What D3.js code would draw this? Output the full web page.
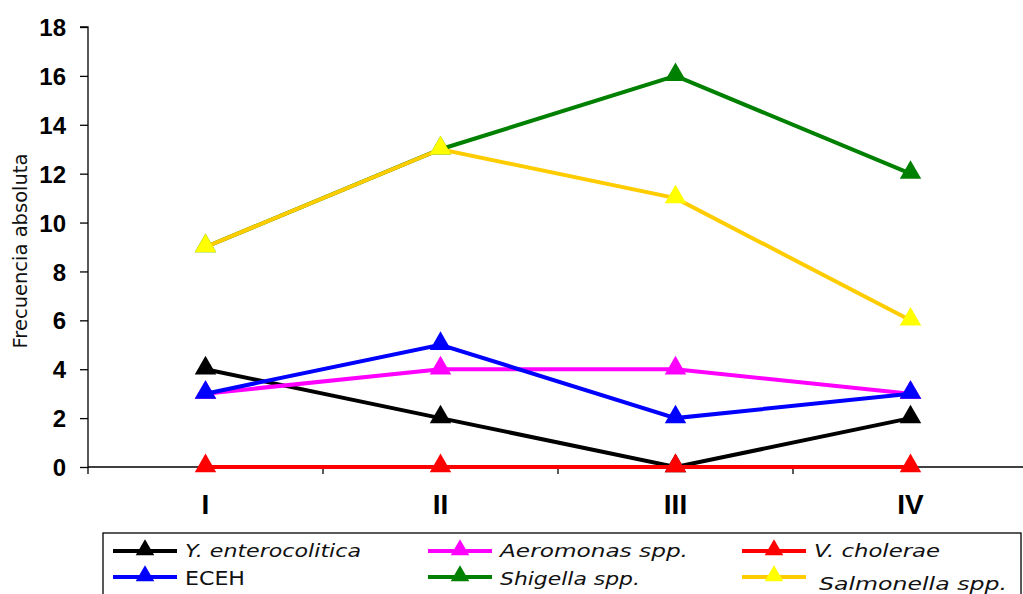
<!DOCTYPE html>
<html><head><meta charset="utf-8">
<script src="https://cdn.jsdelivr.net/npm/d3@7"></script>
<style>body{margin:0;background:#fff}svg{display:block}</style>
</head><body>
<svg id="c" width="1023" height="594"></svg>
<script>
const categories = ["I", "II", "III", "IV"];
const seriesNames = ["Y. enterocolitica", "ECEH", "Aeromonas spp.", "Shigella spp.", "V. cholerae", "Salmonella spp."];
const yEnterocolitica = [4, 2, 0, 2];
const eceh = [3, 5, 2, 3];
const aeromonas = [3, 4, 4, 3];
const shigella = [9, 13, 16, 12];
const vCholerae = [0, 0, 0, 0];
const salmonella = [9, 13, 11, 6];
const yTicks = [0, 2, 4, 6, 8, 10, 12, 14, 16, 18];

const series = [
  {name: seriesNames[0], values: yEnterocolitica, line: "#000000", mark: "#000000", italic: true, z: 0, tl: 176},
  {name: seriesNames[1], values: eceh, line: "#0000FF", mark: "#0000FF", italic: false, z: 3, tl: 60},
  {name: seriesNames[2], values: aeromonas, line: "#FF00FF", mark: "#FF00FF", italic: true, z: 1, tl: 188},
  {name: seriesNames[3], values: shigella, line: "#008000", mark: "#008000", italic: true, z: 4, tl: 140},
  {name: seriesNames[4], values: vCholerae, line: "#FF0000", mark: "#FF0000", italic: true, z: 2, tl: 126},
  {name: seriesNames[5], values: salmonella, line: "#FFCC00", mark: "#FFFF00", italic: true, z: 5, tl: 188}
];

(function () {
const svg = d3.select("#c");
const pLeft = 88, pRight = 1028, pTop = 27, pBottom = 467;
const x = d3.scaleBand().domain(categories).range([pLeft, pRight]);
const y = d3.scaleLinear().domain([0, 18]).range([pBottom, pTop]);
const FN = "'Liberation Sans Narrow', 'Arial Narrow', 'Liberation Sans', Arial, sans-serif";
const FL = "'DejaVu Sans', Verdana, sans-serif";

// Y axis
const yAxis = svg.append("g").attr("transform", `translate(${pLeft},0)`)
  .call(d3.axisLeft(y).tickValues(yTicks).tickSize(8).tickPadding(14));
yAxis.select(".domain").attr("stroke", "#000").attr("stroke-width", 1.3).attr("d", `M-8,${pTop}H0V${pBottom}`);
yAxis.selectAll(".tick line").attr("stroke", "#000").attr("stroke-width", 1.3);
yAxis.selectAll("text").attr("font-family", FN)
  .attr("font-weight", "bold").attr("font-size", 24).attr("fill", "#000").attr("dy", "0.36em");

// X axis
const xAxis = svg.append("g").attr("transform", `translate(0,${pBottom})`)
  .call(d3.axisBottom(x).tickSize(0).tickPadding(27));
xAxis.select(".domain").attr("stroke", "#000").attr("stroke-width", 1.3).attr("d", `M${pLeft},0H${pRight}`);
xAxis.selectAll("text").attr("font-family", FN)
  .attr("font-weight", "bold").attr("font-size", 28).attr("fill", "#000");
const bounds = categories.map(c => x(c)).concat([x.range()[1]]);
xAxis.selectAll(".bt").data(bounds).enter().append("line")
  .attr("x1", d => d).attr("x2", d => d).attr("y1", 0).attr("y2", 7)
  .attr("stroke", "#000").attr("stroke-width", 1.3);

// Y label
svg.append("text").attr("transform", `translate(27,251) rotate(-90)`)
  .attr("text-anchor", "middle").attr("font-family", FL)
  .attr("font-size", 19.5).attr("fill", "#111").text("Frecuencia absoluta");

const cx = c => x(c) + x.bandwidth() / 2;
const line = d3.line().x((d, i) => cx(categories[i])).y(d => y(d));
const tri = d3.symbol().type(d3.symbolTriangle).size(200);

series.slice().sort((a, b) => a.z - b.z).forEach(s => {
  svg.append("path").datum(s.values).attr("d", line).attr("fill", "none")
    .attr("stroke", s.line).attr("stroke-width", 4);
  svg.selectAll(null).data(s.values).enter().append("path")
    .attr("d", tri).attr("transform", (d, i) => `translate(${cx(categories[i])},${y(d) - 1})`)
    .attr("fill", s.mark);
});

// Legend
const lg = svg.append("g");
lg.append("rect").attr("x", 103).attr("y", 533).attr("width", 918).attr("height", 70)
  .attr("fill", "#fff").attr("stroke", "#000").attr("stroke-width", 1.3);
const colX = [113, 428, 742];
const rowY = [551, 577];
const tri2 = d3.symbol().type(d3.symbolTriangle).size(150);
series.forEach((s, i) => {
  const col = Math.floor(i / 2), row = i % 2;
  const x0 = colX[col], yy = rowY[row];
  lg.append("line").attr("x1", x0).attr("x2", x0 + 64).attr("y1", yy).attr("y2", yy)
    .attr("stroke", s.line).attr("stroke-width", 4);
  lg.append("path").attr("d", tri2).attr("transform", `translate(${x0 + 32},${yy - 1})`).attr("fill", s.mark);
  lg.append("text").attr("x", x0 + 72 + (i === 5 ? 5 : 0)).attr("y", yy + (i === 5 ? 13 : (row ? 8 : 6)))
    .attr("font-family", FL).attr("font-size", s.italic ? 17 : 20)
    .attr("textLength", s.tl).attr("lengthAdjust", "spacingAndGlyphs")
    .attr("font-style", s.italic ? "italic" : "normal").attr("fill", "#111").text(s.name);
});
})();
</script>
</body></html>
